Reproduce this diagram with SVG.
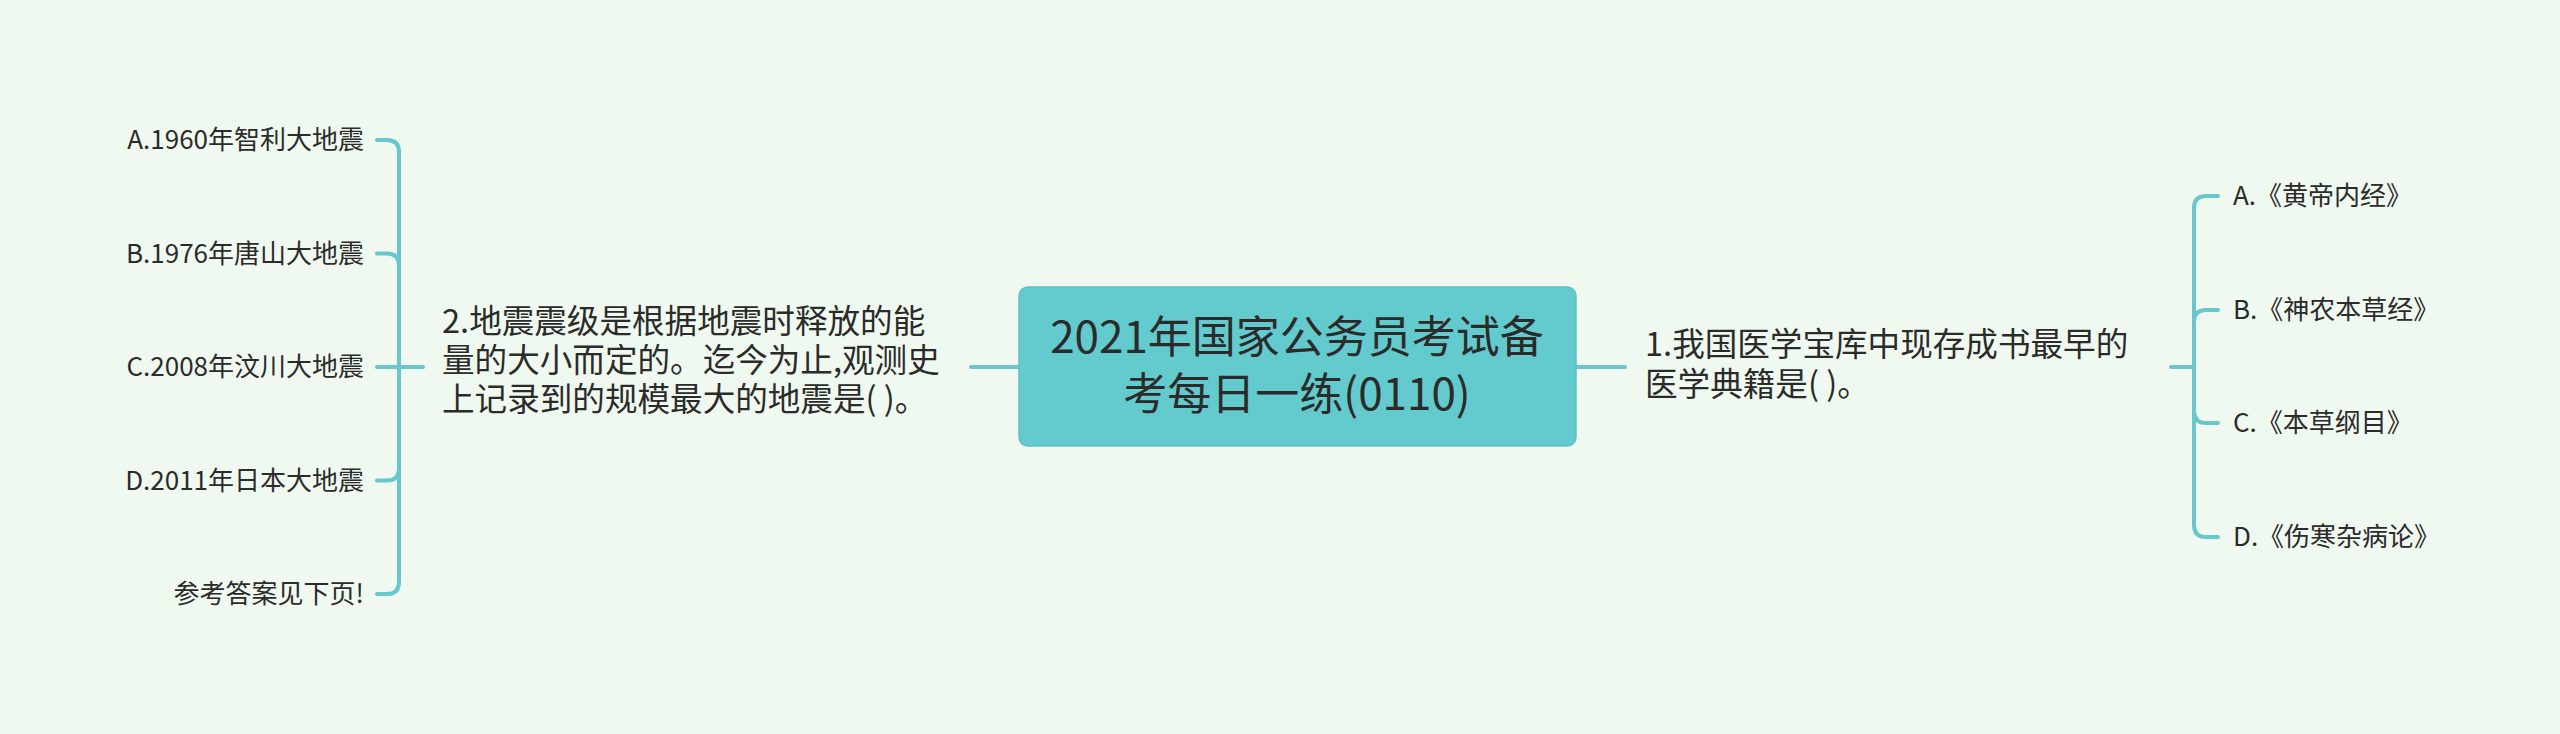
<svg xmlns="http://www.w3.org/2000/svg" width="2560" height="734" viewBox="0 0 2560 734">
<style>
.bg{fill:#eff9ef}
.t{font-family:"Noto Sans CJK SC","Noto Sans",sans-serif;fill:#2b2b2b}
.main{font-size:44px}
.q{font-size:32.6px}
.c{font-size:26px}
.ln{fill:none;stroke:#67c7cc;stroke-width:4;stroke-linecap:round}
</style>
<rect class="bg" x="0" y="0" width="2560" height="734"/>
<g id="connectors">
<path class="ln" d="M1019,367 L971,367"/>
<path class="ln" d="M1576,367 L1625,367"/>
<path class="ln" d="M423,367 L399,367"/>
<path class="ln" d="M399,367 L399,152 Q399,140 387,140 L377,140"/>
<path class="ln" d="M399,367 L399,265.5 Q399,253.5 387,253.5 L377,253.5"/>
<path class="ln" d="M399,367 L377,367"/>
<path class="ln" d="M399,367 L399,468.5 Q399,480.5 387,480.5 L377,480.5"/>
<path class="ln" d="M399,367 L399,582 Q399,594 387,594 L377,594"/>
<path class="ln" d="M2171,367 L2194,367"/>
<path class="ln" d="M2194,367 L2194,208 Q2194,196 2206,196 L2218,196"/>
<path class="ln" d="M2194,367 L2194,322 Q2194,310 2206,310 L2218,310"/>
<path class="ln" d="M2194,367 L2194,411 Q2194,423 2206,423 L2218,423"/>
<path class="ln" d="M2194,367 L2194,525 Q2194,537 2206,537 L2218,537"/>
</g>
<g id="root">
<rect x="1019" y="287" width="557" height="159" rx="9" fill="#63cbcd" stroke="#5cc2c6" stroke-width="1.5"/>
<text class="t main" text-anchor="middle"><tspan x="1297" y="353">2021年国家公务员考试备</tspan><tspan x="1297" y="410">考每日一练(0110)</tspan></text>
</g>
<g id="q2">
<text class="t q"><tspan x="442" y="333">2.地震震级是根据地震时释放的能</tspan><tspan x="442" y="372">量的大小而定的。迄今为止,观测史</tspan><tspan x="442" y="411">上记录到的规模最大的地震是( )。</tspan></text>
</g>
<g id="q2a"><text class="t c" x="364" y="149" text-anchor="end">A.1960年智利大地震</text></g>
<g id="q2b"><text class="t c" x="364" y="262.5" text-anchor="end">B.1976年唐山大地震</text></g>
<g id="q2c"><text class="t c" x="364" y="376" text-anchor="end">C.2008年汶川大地震</text></g>
<g id="q2d"><text class="t c" x="364" y="489.5" text-anchor="end">D.2011年日本大地震</text></g>
<g id="q2e"><text class="t c" x="364" y="603" text-anchor="end">参考答案见下页!</text></g>
<g id="q1">
<text class="t q"><tspan x="1645" y="356">1.我国医学宝库中现存成书最早的</tspan><tspan x="1645" y="396">医学典籍是( )。</tspan></text>
</g>
<g id="q1a"><text class="t c" x="2233" y="205">A.《黄帝内经》</text></g>
<g id="q1b"><text class="t c" x="2233" y="319">B.《神农本草经》</text></g>
<g id="q1c"><text class="t c" x="2233" y="432">C.《本草纲目》</text></g>
<g id="q1d"><text class="t c" x="2233" y="546">D.《伤寒杂病论》</text></g>
</svg>
